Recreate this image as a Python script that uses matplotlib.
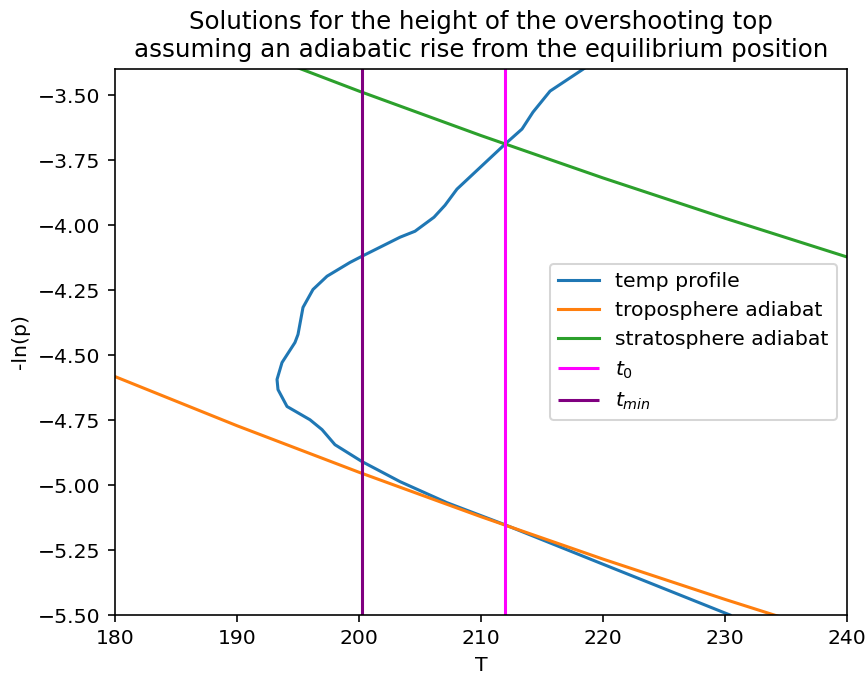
import matplotlib
matplotlib.use("Agg")
import matplotlib.pyplot as plt

# measured temperature profile (T, -ln p)
temp_T = [230.41, 219.75, 211.97, 207.21, 203.36, 200.25, 198.03, 196.97,
          195.98, 194.10, 193.36, 193.28, 193.69, 194.75, 195.00, 195.41,
          196.23, 197.38, 199.26, 200.25, 203.36, 204.59, 206.15, 207.05,
          208.03, 211.97, 213.36, 214.26, 215.66, 218.52, 221.00]
temp_lnp = [-5.500, -5.300, -5.153, -5.068, -4.987, -4.910, -4.845, -4.787,
            -4.749, -4.698, -4.633, -4.594, -4.529, -4.452, -4.421, -4.317,
            -4.248, -4.197, -4.144, -4.120, -4.047, -4.024, -3.970, -3.924,
            -3.862, -3.689, -3.631, -3.566, -3.485, -3.396, -3.320]

# adiabats
adiabat_T = [180, 190, 200, 210, 220, 230, 240]
trop_lnp = [-4.583, -4.772, -4.951, -5.122, -5.285, -5.440, -5.589]
strat_lnp = [-3.117, -3.306, -3.485, -3.656, -3.819, -3.974, -4.123]

t0 = 212.0
tmin = 200.25

DPI = 147
fig = plt.figure(figsize=(867 / DPI, 675 / DPI), dpi=DPI)
ax = fig.add_axes([115 / 867, 1 - 615 / 675, (847 - 115) / 867, (615 - 69) / 675])

ax.plot(temp_T, temp_lnp, label='temp profile')
ax.plot(adiabat_T, trop_lnp, label='troposphere adiabat')
ax.plot(adiabat_T, strat_lnp, label='stratosphere adiabat')
ax.vlines(t0, -6, -3, colors='magenta', label='$t_0$')
ax.vlines(tmin, -6, -3, colors='purple', label='$t_{min}$')

ax.set_xlim(180, 240)
ax.set_ylim(-5.5, -3.4)
ax.set_xlabel('T')
ax.set_ylabel('-ln(p)')
ax.set_title('Solutions for the height of the overshooting top\n'
             'assuming an adiabatic rise from the equilibrium position')
ax.legend(loc='center right')

fig.savefig('out.png', dpi=DPI)
